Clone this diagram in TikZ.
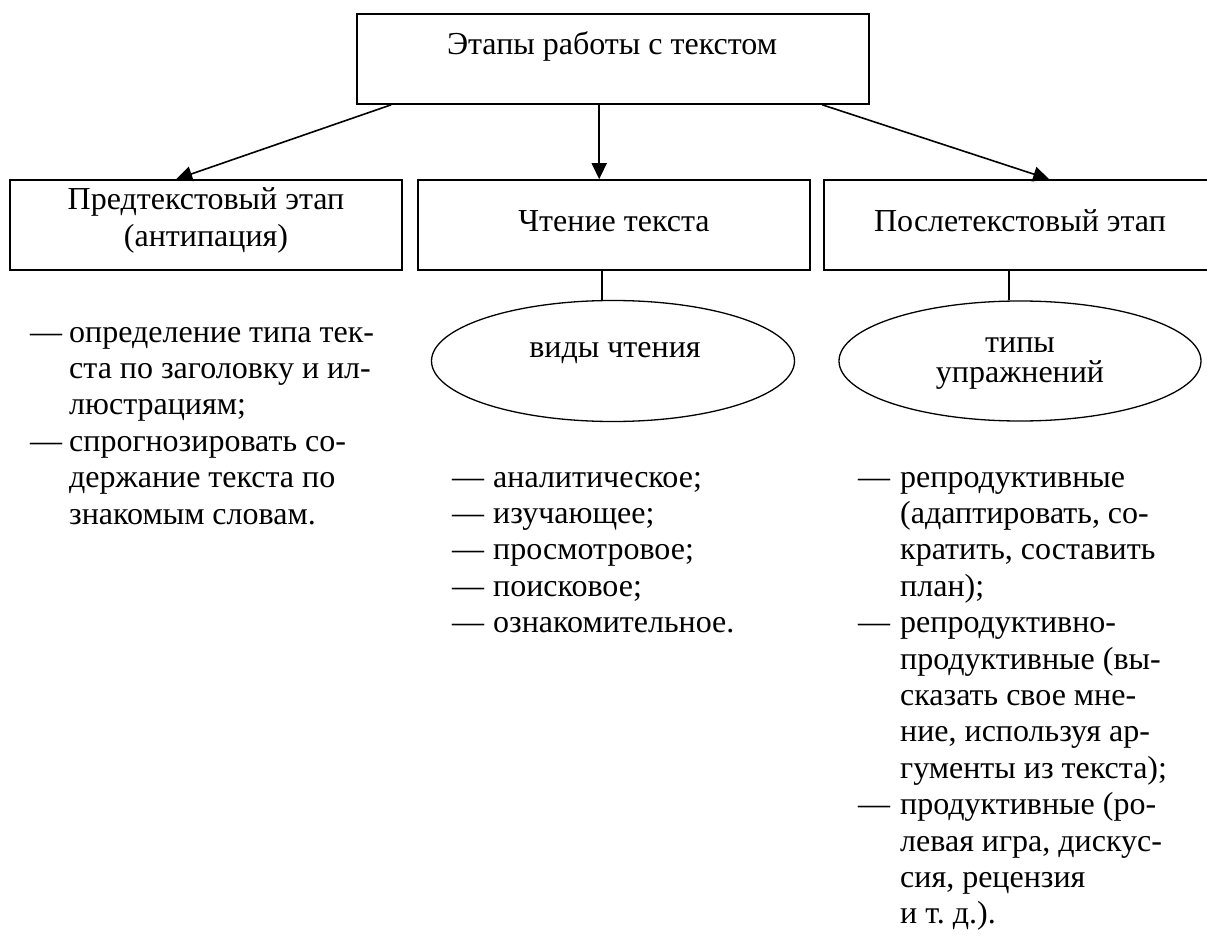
\documentclass[tikz,border=0pt]{standalone}
\usepackage{fontspec}
\setmainfont{Liberation Serif}
\usetikzlibrary{arrows.meta,shapes.geometric,calc}
\begin{document}
\begin{tikzpicture}[x=1pt,y=-1pt,
  box/.style={draw,line width=1.6pt,rectangle,inner sep=0pt,minimum height=90pt},
  oval/.style={draw,line width=1.3pt,ellipse,inner sep=0pt},
  txt/.style={inner sep=0pt,anchor=base,font=\fontsize{32}{36.4}\selectfont},
  lst/.style={inner sep=0pt,anchor=base west,font=\fontsize{32}{36.4}\selectfont},
  arr/.style={line width=1.6pt,-{Triangle[length=16pt,width=15pt]}},
  link/.style={line width=1.6pt}
]
\useasboundingbox (0,0) rectangle (1207,936);

% boxes
\node[box,minimum width=512pt] (top)  at (613,59)  {};
\node[box,minimum width=392pt] (pre)  at (206,225) {};
\node[box,minimum width=392pt] (read) at (614,225) {};
\node[box,minimum width=392pt] (post) at (1020,225) {};

% ellipses
\node[oval,minimum width=363pt,minimum height=121pt] (kinds) at (613,361) {};
\node[oval,minimum width=362pt,minimum height=120pt] (types) at (1020,361) {};

% captions
\node[txt] (ttop)  at (612,55)  {Этапы работы с текстом};
\node[txt] (tpre1) at (206,210) {Предтекстовый этап};
\node[txt] (tpre2) at (206,247) {(антипация)};
\node[txt] (tread) at (614,232) {Чтение текста};
\node[txt] (tpost) at (1020,232) {Послетекстовый этап};
\node[txt] (tkinds) at (615,357) {виды чтения};
\node[txt] (ttyp1) at (1020,352) {типы};
\node[txt] (ttyp2) at (1020,382) {упражнений};

% arrows from the heading
\draw[arr] ($(top.south west)+(35,0)$)  -- ($(pre.north west)+(167,0)$);
\draw[arr] ($(top.south west)+(243,0)$) -- ($(read.north west)+(182,0)$);
\draw[arr] ($(top.south west)+(466,0)$) -- ($(post.north west)+(226,0)$);

% links to the ellipses
\draw[link] ($(read.south west)+(185,0)$) coordinate (m1) -- (m1 |- kinds.north);
\draw[link] ($(post.south west)+(186,0)$) coordinate (m2) -- (m2 |- types.north);

% lists
\node[lst] (lpre) at (30,342) {\begin{tabular}[t]{@{}p{39pt}@{}l@{}}
— & определение типа тек-\\
  & ста по заголовку и ил-\\
  & люстрациям;\\
— & спрогнозировать со-\\
  & держание текста по\\
  & знакомым словам.
\end{tabular}};

\node[lst] (lread) at (452,487) {\begin{tabular}[t]{@{}p{41pt}@{}l@{}}
— & аналитическое;\\
— & изучающее;\\
— & просмотровое;\\
— & поисковое;\\
— & ознакомительное.
\end{tabular}};

\node[lst] (lpost) at (858,487) {\begin{tabular}[t]{@{}p{42pt}@{}l@{}}
— & репродуктивные\\
  & (адаптировать, со-\\
  & кратить, составить\\
  & план);\\
— & репродуктивно-\\
  & продуктивные (вы-\\
  & сказать свое мне-\\
  & ние, используя ар-\\
  & гументы из текста);\\
— & продуктивные (ро-\\
  & левая игра, дискус-\\
  & сия, рецензия\\
  & и т.\ д.).
\end{tabular}};
\end{tikzpicture}
\end{document}
